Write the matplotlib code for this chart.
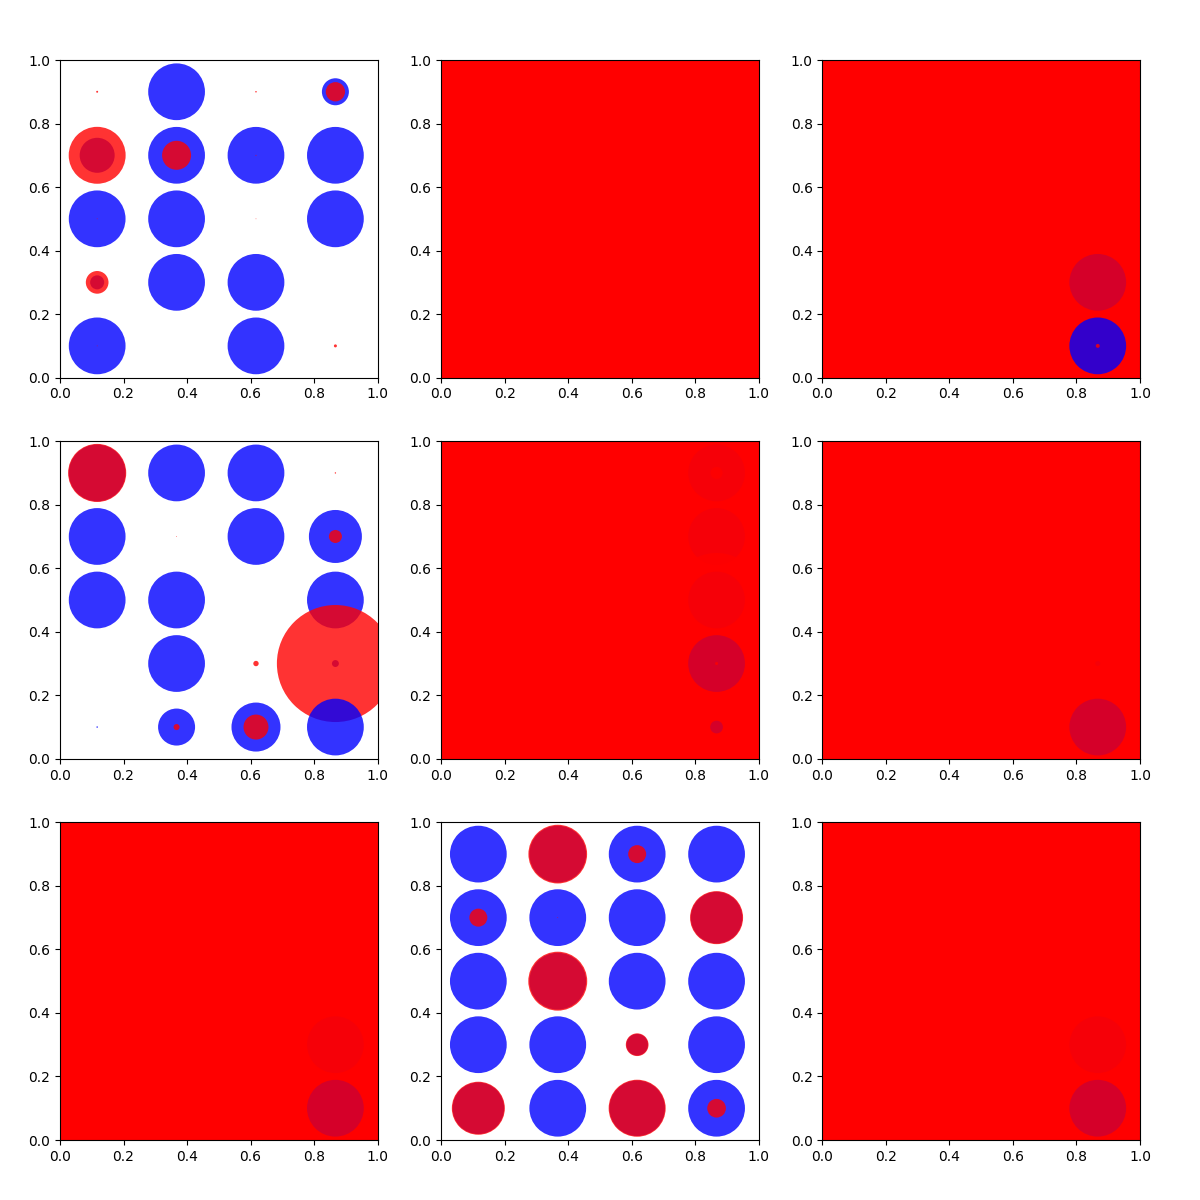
import matplotlib
matplotlib.use("Agg")
import matplotlib.pyplot as plt
import numpy as np

# grid positions (columns left->right, rows top->bottom)
x_pos = [0.117, 0.367, 0.617, 0.867]
y_pos = [0.9, 0.7, 0.5, 0.3, 0.1]

HUGE = 1.0e6
F = 1670  # full-size marker

# marker sizes (points^2); rows follow y_pos, columns follow x_pos
blue_1 = [[0, F, 0, 378],
          [635, F, F, F],
          [F, F, 0, F],
          [102, F, F, 0],
          [F, 0, F, 0]]
red_1 = [[2, 0, 1.2, 193],
         [1680, 436, 0.5, 0],
         [0.3, 0, 0.3, 0],
         [267, 0, 0, 0],
         [0.3, 0, 0, 4.7]]

blue_2 = [[0, 0, 0, 0]] * 5
red_2 = [[HUGE] * 4] * 5

blue_3 = [[0, 0, 0, 0], [0, 0, 0, 0], [0, 0, 0, 0], [0, 0, 0, F], [0, 0, 0, F]]
red_3 = [[HUGE] * 4, [HUGE] * 4, [HUGE] * 4, [HUGE] * 4, [HUGE, HUGE, HUGE, 8]]

blue_4 = [[F, F, F, 0],
          [F, 0, F, 1456],
          [F, F, 0, F],
          [0, F, 0, 25],
          [1.2, 710, 1245, F]]
red_4 = [[1750, 0, 0, 1],
         [0, 0.3, 0, 88],
         [0, 0, 0, 0],
         [0, 0, 15, 7100],
         [0, 19, 324, 0]]

blue_5 = [[0, 0, 0, F], [0, 0, 0, F], [0, 0, 0, F], [0, 0, 0, F], [0, 0, 0, 84]]
red_5 = [[HUGE, HUGE, HUGE, 75], [HUGE] * 4, [HUGE, HUGE, HUGE, 4580],
         [HUGE, HUGE, HUGE, 4.7], [HUGE] * 4]

blue_6 = [[0, 0, 0, 0], [0, 0, 0, 0], [0, 0, 0, 0], [0, 0, 0, 13], [0, 0, 0, F]]
red_6 = [[HUGE] * 4] * 5

blue_7 = [[0, 0, 0, 0], [0, 0, 0, 0], [0, 0, 0, 0], [0, 0, 0, F], [0, 0, 0, F]]
red_7 = [[HUGE] * 4] * 5

blue_8 = [[F, F, F, F],
          [F, F, F, 1380],
          [F, F, F, F],
          [F, F, 240, F],
          [1380, F, 1600, F]]
red_8 = [[0, 1786, 168, 0],
         [168, 0.3, 0, 1456],
         [0, 1800, 0, 0],
         [0, 0, 267, 0],
         [1456, 0, 1684, 181]]

blue_9 = [[0, 0, 0, 0], [0, 0, 0, 0], [0, 0, 0, 0], [0, 0, 0, F], [0, 0, 0, F]]
red_9 = [[HUGE] * 4] * 5

panels = [(blue_1, red_1), (blue_2, red_2), (blue_3, red_3),
          (blue_4, red_4), (blue_5, red_5), (blue_6, red_6),
          (blue_7, red_7), (blue_8, red_8), (blue_9, red_9)]

fig, axes = plt.subplots(3, 3, figsize=(12, 12), dpi=100)
fig.subplots_adjust(left=0.05, right=0.95, bottom=0.05, top=0.95,
                    wspace=0.2, hspace=0.2)

for ax, (blue, red) in zip(axes.flat, panels):
    xs, ys, ss, cs = [], [], [], []
    # draw column by column, top to bottom; blue then red at each point
    for ci, xv in enumerate(x_pos):
        for ri, yv in enumerate(y_pos):
            for sizes, col in ((blue, "blue"), (red, "red")):
                s = sizes[ri][ci]
                if s > 0:
                    xs.append(xv)
                    ys.append(yv)
                    ss.append(s)
                    cs.append(col)
    ax.scatter(xs, ys, s=ss, c=cs, alpha=0.8, linewidths=0)
    ax.set_xlim(0, 1)
    ax.set_ylim(0, 1)

fig.savefig("out.png", dpi=100)
